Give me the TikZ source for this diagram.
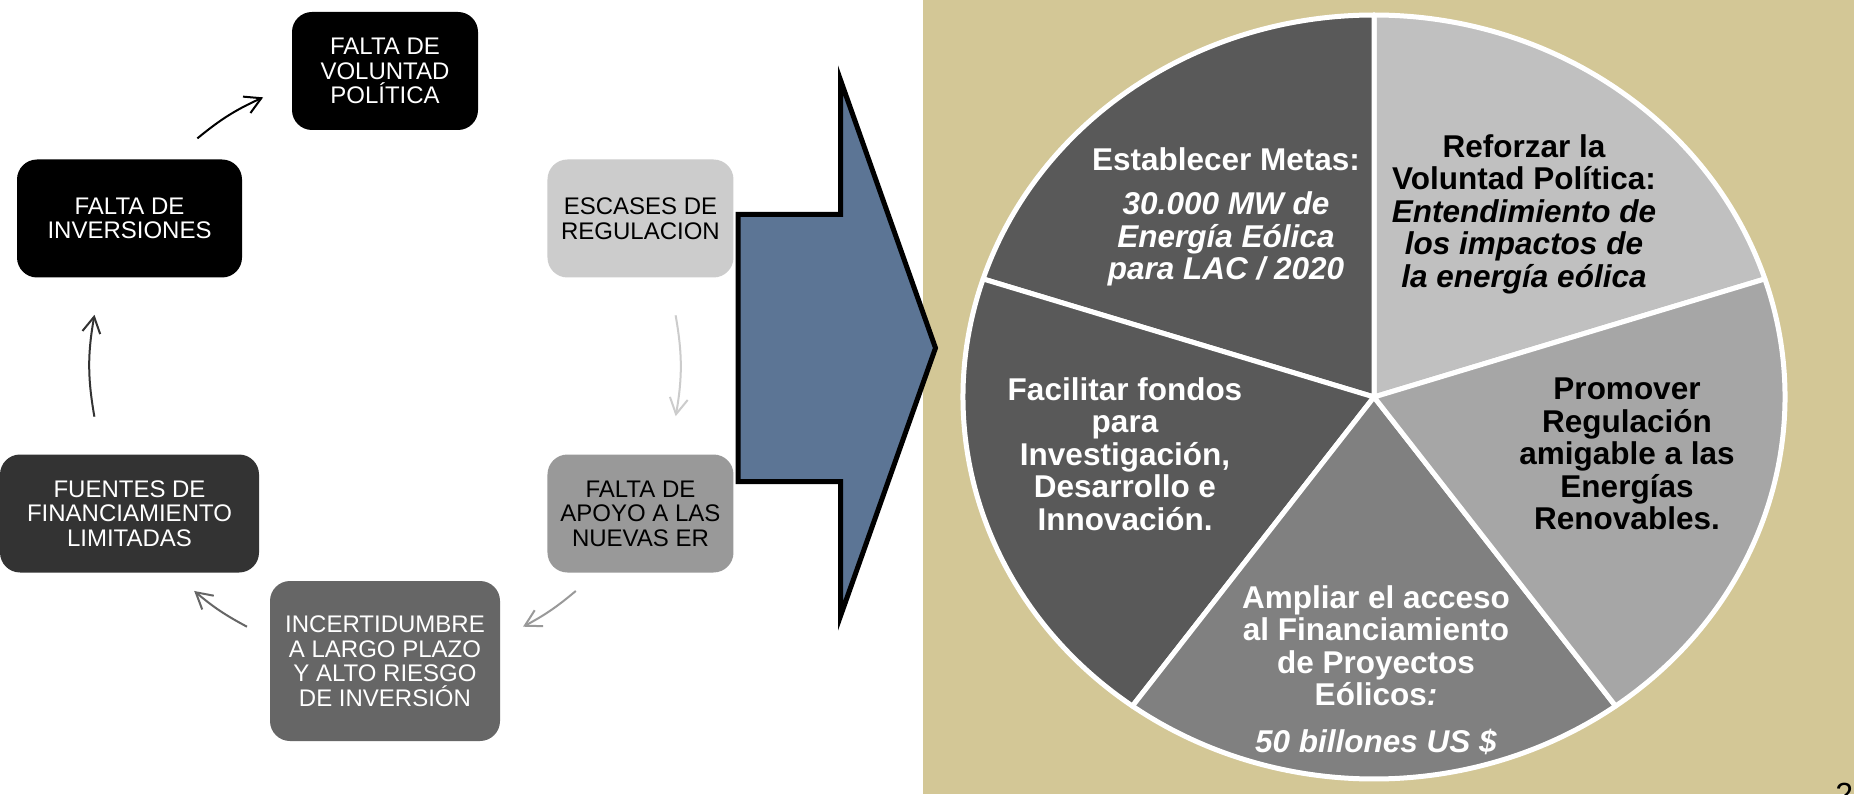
\documentclass[tikz,border=0pt]{standalone}
\usepackage{fontspec}
\setmainfont{Liberation Sans}
\usetikzlibrary{positioning,calc,arrows.meta}

\definecolor{sand}{RGB}{211,199,150}
\definecolor{steel}{RGB}{92,117,149}
\definecolor{boxdark}{HTML}{333333}
\definecolor{boxmid}{HTML}{666666}
\definecolor{boxlight}{HTML}{999999}
\definecolor{boxpale}{HTML}{CCCCCC}
\definecolor{piedark}{HTML}{595959}
\definecolor{piemid}{HTML}{808080}
\definecolor{pielight}{HTML}{A6A6A6}
\definecolor{piepale}{HTML}{C0C0C0}

\begin{document}
\begin{tikzpicture}[
      x=0.5pt, y=0.5pt,
      cycbox/.style={rounded corners=10pt, minimum height=59pt, align=center,
        inner sep=2pt, font=\fontsize{12}{12.25}\selectfont},
      cycarrow/.style={line width=1pt, -{Straight Barb[length=8pt,width=9pt]}},
      slice/.style={draw=white, line width=2.5pt, line join=round},
      slicetext/.style={align=center, font=\bfseries\fontsize{15.75}{16.25}\selectfont},
      ]
      \useasboundingbox (0,0) rectangle (1854,794);
      \fill[white] (0,0) rectangle (923,794);
      \fill[sand] (923,0) rectangle (1854,794);

      % cycle of barriers
      \coordinate (cyc) at (385,428);
      \node[cycbox, fill=black, text=white, minimum width=93pt]
        at ($(cyc)+(90:295)$) (vol) {FALTA DE\\VOLUNTAD\\POLÍTICA};
      \node[cycbox, fill=boxpale, minimum width=93pt]
        at ($(cyc)+(30:295)$) (esc) {ESCASES DE\\REGULACION};
      \node[cycbox, fill=boxlight, minimum width=93pt]
        at ($(cyc)+(-30:295)$) (apo) {FALTA DE\\APOYO A LAS\\NUEVAS ER};
      \node[cycbox, fill=boxmid, text=white, minimum width=115pt, minimum height=80pt]
        at ($(cyc)+(-90:295)$) (inc) {INCERTIDUMBRE\\A LARGO PLAZO\\Y ALTO RIESGO\\DE INVERSIÓN};
      \node[cycbox, fill=boxdark, text=white, minimum width=129.5pt]
        at ($(cyc)+(210:295)$) (fue) {FUENTES DE\\FINANCIAMIENTO\\LIMITADAS};
      \node[cycbox, fill=black, text=white, minimum width=112.5pt]
        at ($(cyc)+(150:295)$) (inv) {FALTA DE\\INVERSIONES};

      \coordinate (invvolS) at ($(cyc)+(129.5:295)$);
      \coordinate (invvolE) at ($(cyc)+(114.4:295)$);
      \coordinate (escapoS) at ($(cyc)+(9.9:295)$);
      \coordinate (escapoE) at ($(cyc)+(-9.8:295)$);
      \coordinate (apoincS) at ($(cyc)+(-49.7:295)$);
      \coordinate (apoincE) at ($(cyc)+(-62.1:295)$);
      \coordinate (incfueS) at ($(cyc)+(242.1:295)$);
      \coordinate (incfueE) at ($(cyc)+(229.7:295)$);
      \coordinate (fueinvS) at ($(cyc)+(189.9:295)$);
      \coordinate (fueinvE) at ($(cyc)+(170:295)$);
      \draw[cycarrow, black]    (invvolS) to[bend left=7.5] (invvolE);
      \draw[cycarrow, boxpale]  (escapoS) to[bend left=10] (escapoE);
      \draw[cycarrow, boxlight] (apoincS) to[bend left=6] (apoincE);
      \draw[cycarrow, boxmid]   (incfueS) to[bend left=6] (incfueE);
      \draw[cycarrow, boxdark]  (fueinvS) to[bend left=10] (fueinvE);

      % big arrow
      \draw[fill=steel, line width=2.5pt, line join=miter]
        (738,579.5) -- (840.5,579.5) -- (840.5,714) -- (935.5,446)
        -- (840.5,178) -- (840.5,312.5) -- (738,312.5) -- cycle;

      % pie of actions
      \coordinate (pie) at (1374,397);
      \filldraw[slice, fill=piepale] (pie) -- +(18:411 and 382)
        arc[start angle=18, end angle=90, x radius=411, y radius=382] -- cycle;
      \filldraw[slice, fill=piedark] (pie) -- +(90:411 and 382)
        arc[start angle=90, end angle=162, x radius=411, y radius=382] -- cycle;
      \filldraw[slice, fill=piedark] (pie) -- +(162:411 and 382)
        arc[start angle=162, end angle=234, x radius=411, y radius=382] -- cycle;
      \filldraw[slice, fill=piemid] (pie) -- +(234:411 and 382)
        arc[start angle=234, end angle=306, x radius=411, y radius=382] -- cycle;
      \filldraw[slice, fill=pielight] (pie) -- +(306:411 and 382)
        arc[start angle=306, end angle=378, x radius=411, y radius=382] -- cycle;

      \node[slicetext, text=white] (metas) at (1226,577)
        {Establecer Metas:\\[6pt]\textit{30.000 MW de}\\\textit{Energía Eólica}\\\textit{para LAC / 2020}};
      \node[slicetext, text=black] (voluntad) at (1524,580)
        {Reforzar la\\Voluntad Política:\\\textit{Entendimiento de}\\\textit{los impactos de}\\\textit{la energía eólica}};
      \node[slicetext, text=white] (fondos) at (1125,340)
        {Facilitar fondos\\para\\Investigación,\\Desarrollo e\\Innovación.};
      \node[slicetext, text=black] (regulacion) at (1627,340)
        {Promover\\Regulación\\amigable a las\\Energías\\Renovables.};
      \node[slicetext, text=white] (acceso) at (1376,124)
        {Ampliar el acceso\\al Financiamiento\\de Proyectos\\Eólicos\textit{:}\\[7pt]\textit{50 billones US \$}};

      \node[anchor=north west, inner sep=0pt, font=\fontsize{16}{16}\selectfont]
        (pagenum) at (1835,11) {2};
    \end{tikzpicture}
\end{document}
